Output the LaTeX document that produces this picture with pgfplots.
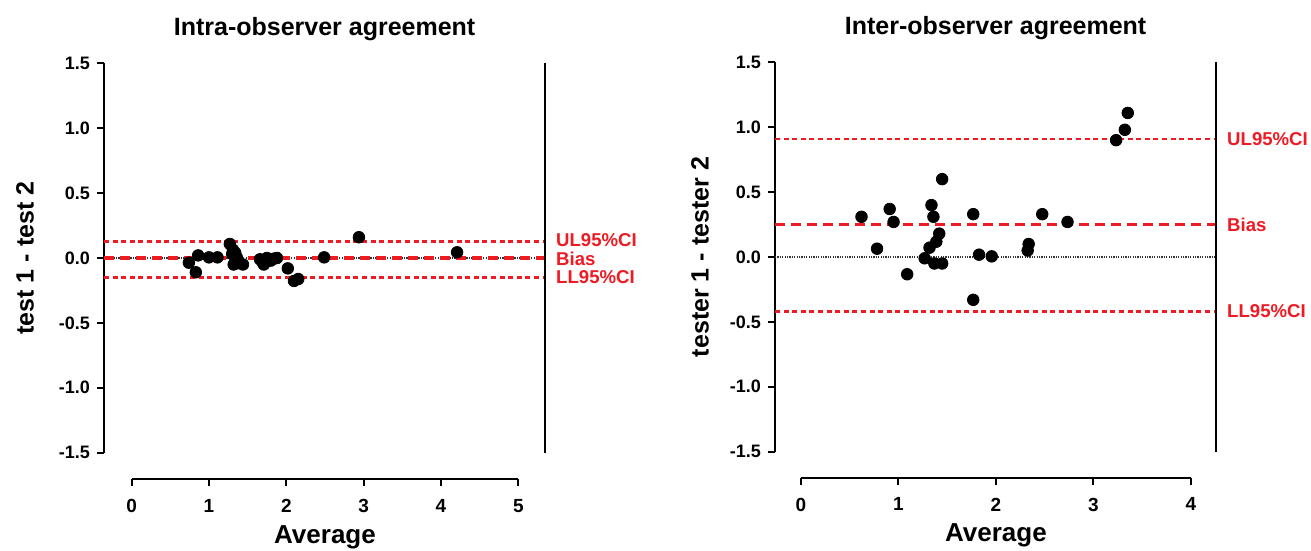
\documentclass[border=0pt]{standalone}
\usepackage{fontspec}
\setmainfont{Liberation Sans}
\usepackage{pgfplots}
\pgfplotsset{compat=1.18}
\definecolor{limred}{RGB}{237,28,36}

\pgfplotsset{
  ba main/.style={
    scale only axis, width=220.6pt, height=194.7pt,
    ymin=-1.5, ymax=1.5,
    axis x line=none, axis y line=left,
    axis line style={-, line width=1pt},
    ytick={-1.5,-1,-0.5,0,0.5,1,1.5},
    yticklabels={-1.5,-1.0,-0.5,0.0,0.5,1.0,1.5},
    tick align=outside, major tick length=3.5pt,
    tick style={line width=1pt, black},
    yticklabel style={font=\bfseries\fontsize{9}{9}\selectfont},
    ylabel style={font=\bfseries\fontsize{12.5}{12.5}\selectfont, anchor=center},
    title style={font=\bfseries\fontsize{12.5}{12.5}\selectfont,
      at={(axis description cs:0.5,1)}, anchor=center, yshift=11pt},
    anchor=south west, clip=false,
  },
  ba xaxis/.style={
    scale only axis, height=0.1pt, ymin=0, ymax=1,
    axis y line=none, axis x line=bottom,
    axis line style={-, line width=1pt},
    tick align=outside, major tick length=3.5pt,
    tick style={line width=1pt, black},
    /pgf/number format/assume math mode=true,
    xticklabel style={font=\bfseries\fontsize{9.5}{9.5}\selectfont, yshift=-3pt},
    xlabel style={font=\bfseries\fontsize{13}{13}\selectfont,
      at={(axis description cs:0.5,0)}, anchor=center, yshift=-29pt},
    anchor=south west,
  },
  zero/.style={black!80, line width=0.6pt, dash pattern=on 0.6pt off 0.6pt},
  limit/.style={limred, line width=1.3pt, dash pattern=on 2.5pt off 1.8pt},
  bias/.style={limred, line width=1.6pt, dash pattern=on 5pt off 3pt},
  dots/.style={only marks, mark=*, mark size=2.9pt, black},
}
\tikzset{lbl/.style={anchor=west, inner sep=0pt, xshift=5.3pt, text=limred,
    font=\bfseries\fontsize{9.3}{9.3}\selectfont}}

\begin{document}
\begin{tikzpicture}
\path[use as bounding box] (-52pt,-49.15pt) rectangle (603.5pt,226.35pt);

% intra-observer
\begin{axis}[ba main, at={(0pt,0pt)}, xmin=-0.358, xmax=5.35,
  title={Intra-observer agreement}, ylabel={test 1 - test 2},
  ylabel style={at={(axis description cs:-0.179,0.5)}}]
  \addplot[zero] coordinates {(-0.358,0) (5.35,0)};
  \addplot[limit] coordinates {(-0.358,0.126) (5.35,0.126)};
  \addplot[limit] coordinates {(-0.358,-0.152) (5.35,-0.152)};
  \addplot[bias] coordinates {(-0.358,0.0) (5.35,0.0)};
  \addplot[dots] coordinates {
    (0.74,-0.036) (0.83,-0.11) (0.86,0.02) (1.00,0.005) (1.11,0.005)
    (1.27,0.108) (1.31,0.064) (1.34,0.04) (1.36,0.005) (1.38,-0.04)
    (1.44,-0.05) (1.30,0.03) (1.33,0.02) (1.35,-0.03) (1.32,-0.05)
    (1.66,-0.01) (1.69,-0.03) (1.71,-0.05) (1.75,0.0) (1.80,-0.02)
    (1.84,-0.005) (1.88,0.0) (2.02,-0.08) (2.10,-0.177) (2.155,-0.162)
    (2.49,0.005) (2.94,0.16) (4.21,0.044)};
  \draw[line width=1pt] (rel axis cs:1,0) -- (rel axis cs:1,1);
  \node[lbl] at (axis cs:5.35,0.136) {UL95\%CI};
  \node[lbl] at (axis cs:5.35,-0.005) {Bias};
  \node[lbl] at (axis cs:5.35,-0.148) {LL95\%CI};
\end{axis}
\begin{axis}[ba xaxis, at={(13.85pt,-13.3pt)}, width=193.3pt,
  xmin=0, xmax=5, xtick={0,1,2,3,4,5}, xlabel={Average}]
\end{axis}

% inter-observer
\begin{axis}[ba main, at={(335.5pt,0.5pt)}, xmin=-0.27, xmax=4.27,
  title={Inter-observer agreement}, ylabel={tester 1 - tester 2},
  ylabel style={at={(axis description cs:-0.17,0.5)}}]
  \addplot[zero] coordinates {(-0.27,0) (4.27,0)};
  \addplot[limit] coordinates {(-0.27,0.909) (4.27,0.909)};
  \addplot[limit] coordinates {(-0.27,-0.418) (4.27,-0.418)};
  \addplot[bias] coordinates {(-0.27,0.249) (4.27,0.249)};
  \addplot[dots] coordinates {
    (0.62,0.31) (0.78,0.064) (0.91,0.37) (0.95,0.27) (1.09,-0.133)
    (1.27,-0.01) (1.32,0.072) (1.34,0.40) (1.36,0.31) (1.39,0.118)
    (1.42,0.18) (1.37,-0.05) (1.45,-0.05) (1.45,0.60) (1.77,0.33)
    (1.77,-0.33) (1.83,0.018) (1.96,0.005) (2.33,0.05) (2.34,0.10)
    (2.48,0.33) (2.74,0.27) (3.24,0.90) (3.33,0.98) (3.36,1.11)};
  \draw[line width=1pt] (rel axis cs:1,0) -- (rel axis cs:1,1);
  \node[lbl] at (axis cs:4.27,0.909) {UL95\%CI};
  \node[lbl] at (axis cs:4.27,0.249) {Bias};
  \node[lbl] at (axis cs:4.27,-0.418) {LL95\%CI};
\end{axis}
\begin{axis}[ba xaxis, at={(348.5pt,-12.5pt)}, width=194.9pt,
  xmin=0, xmax=4, xtick={0,1,2,3,4}, xlabel={Average}]
\end{axis}
\end{tikzpicture}
\end{document}
